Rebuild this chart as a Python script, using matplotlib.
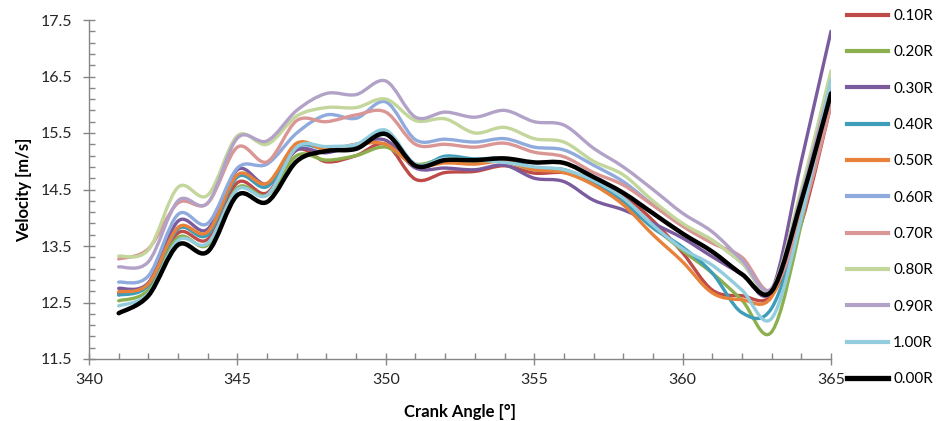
import numpy as np
import matplotlib.pyplot as plt
from matplotlib.path import Path
from matplotlib.patches import PathPatch
from matplotlib.lines import Line2D

plt.rcParams['font.family'] = ['Lato', 'DejaVu Sans']

# crank angle [deg]
angle = list(range(341, 366))

# velocity [m/s] at each radial position
v_010 = [12.66, 12.82, 13.73, 13.62, 14.62, 14.44, 15.20, 14.99, 15.10, 15.30,
         14.68, 14.80, 14.82, 14.92, 14.79, 14.80, 14.68, 14.40, 13.95, 13.38,
         12.72, 12.62, 12.63, 13.90, 16.00]
v_020 = [12.53, 12.72, 13.65, 13.52, 14.53, 14.40, 15.10, 15.02, 15.10, 15.25,
         14.95, 15.05, 15.00, 15.00, 14.85, 14.85, 14.62, 14.30, 13.85, 13.42,
         13.02, 12.54, 11.98, 13.90, 16.55]
v_030 = [12.75, 12.85, 13.94, 13.80, 14.85, 14.60, 15.20, 15.15, 15.30, 15.37,
         14.88, 14.88, 14.85, 14.93, 14.70, 14.64, 14.31, 14.14, 13.90, 13.64,
         13.31, 13.00, 12.72, 15.00, 17.30]
v_040 = [12.63, 12.80, 13.80, 13.70, 14.72, 14.55, 15.25, 15.22, 15.28, 15.50,
         14.92, 15.09, 15.04, 15.05, 14.88, 14.85, 14.62, 14.28, 13.82, 13.48,
         13.02, 12.32, 12.40, 14.00, 16.30]
v_050 = [12.69, 12.83, 13.83, 13.75, 14.76, 14.61, 15.32, 15.20, 15.30, 15.30,
         14.92, 14.97, 14.95, 15.00, 14.85, 14.80, 14.58, 14.23, 13.70, 13.22,
         12.67, 12.55, 12.60, 14.10, 16.10]
v_060 = [12.86, 12.97, 14.06, 13.90, 14.88, 14.95, 15.50, 15.82, 15.76, 16.05,
         15.38, 15.39, 15.34, 15.40, 15.25, 15.20, 14.93, 14.64, 14.23, 13.88,
         13.60, 13.20, 12.72, 14.30, 16.40]
v_070 = [13.27, 13.45, 14.26, 14.26, 15.25, 14.99, 15.72, 15.70, 15.82, 15.87,
         15.30, 15.30, 15.25, 15.32, 15.16, 15.08, 14.80, 14.58, 14.22, 13.85,
         13.55, 13.30, 12.72, 14.00, 16.00]
v_080 = [13.32, 13.43, 14.54, 14.40, 15.45, 15.30, 15.80, 15.95, 15.95, 16.10,
         15.72, 15.75, 15.50, 15.60, 15.40, 15.34, 15.00, 14.76, 14.30, 13.90,
         13.60, 13.20, 12.75, 14.50, 16.60]
v_090 = [13.13, 13.22, 14.30, 14.26, 15.41, 15.36, 15.90, 16.20, 16.18, 16.42,
         15.78, 15.87, 15.78, 15.90, 15.70, 15.64, 15.23, 14.90, 14.50, 14.08,
         13.75, 13.25, 12.75, 14.40, 16.40]
v_100 = [12.44, 12.66, 13.60, 13.55, 14.50, 14.40, 15.25, 15.26, 15.30, 15.55,
         14.95, 15.05, 15.02, 14.98, 14.90, 14.85, 14.66, 14.35, 13.87, 13.45,
         13.16, 12.72, 12.22, 14.00, 16.45]
v_000 = [12.31, 12.62, 13.52, 13.40, 14.40, 14.28, 15.00, 15.18, 15.22, 15.48,
         14.92, 15.02, 15.02, 15.05, 14.98, 14.97, 14.72, 14.44, 14.08, 13.72,
         13.40, 13.00, 12.70, 14.30, 16.20]

labels = ['0.10R', '0.20R', '0.30R', '0.40R', '0.50R', '0.60R',
          '0.70R', '0.80R', '0.90R', '1.00R', '0.00R']
series = [v_010, v_020, v_030, v_040, v_050, v_060,
          v_070, v_080, v_090, v_100, v_000]
colors = ['#BE4B48', '#8CB050', '#7A5C9E', '#3E9DB8', '#E8823A', '#8FAADC',
          '#D99694', '#C3D69B', '#B3A2C7', '#93CDDD', '#000000']
widths = [2.4] * 10 + [3.2]


def smooth_path(x, y):
    '''Excel style smoothed line: cubic bezier segments through the points'''
    x = np.asarray(x, float)
    y = np.asarray(y, float)
    n = len(x)
    verts = [(x[0], y[0])]
    codes = [Path.MOVETO]
    for i in range(n - 1):
        p0 = max(i - 1, 0)
        p3 = min(i + 2, n - 1)
        c1 = (x[i] + (x[i + 1] - x[p0]) / 6, y[i] + (y[i + 1] - y[p0]) / 6)
        c2 = (x[i + 1] - (x[p3] - x[i]) / 6, y[i + 1] - (y[p3] - y[i]) / 6)
        verts += [c1, c2, (x[i + 1], y[i + 1])]
        codes += [Path.CURVE4] * 3
    return Path(verts, codes)


fig = plt.figure(figsize=(9.41, 4.21), dpi=100)
ax = fig.add_axes([89 / 941, 62 / 421, 742 / 941, 339 / 421])

handles = []
for vals, lab, col, lw in zip(series, labels, colors, widths):
    ax.add_patch(PathPatch(smooth_path(angle, vals), fill=False,
                           edgecolor=col, linewidth=lw,
                           capstyle='round', joinstyle='round'))
    handles.append(Line2D([], [], color=col, linewidth=lw + 0.6, label=lab))

ax.set_xlim(340, 365)
ax.set_ylim(11.5, 17.5)
ax.set_xticks(np.arange(340, 366, 5))
ax.set_xticks(np.arange(340, 366, 1), minor=True)
ax.set_yticks(np.arange(11.5, 17.6, 1.0))
ax.set_yticks(np.arange(11.5, 17.6, 0.2), minor=True)
ax.set_yticklabels(['%.1f' % v for v in np.arange(11.5, 17.6, 1.0)])

for side in ['top', 'right']:
    ax.spines[side].set_visible(False)
for side in ['left', 'bottom']:
    ax.spines[side].set_color('#868686')
    ax.spines[side].set_linewidth(1.0)

ax.tick_params(which='major', direction='inout', length=8, width=1,
               color='#868686', labelsize=11.5, labelcolor='#262626')
ax.tick_params(which='minor', direction='in', length=4, width=1,
               color='#868686')
ax.tick_params(axis='x', which='major', pad=6)
ax.tick_params(axis='y', which='major', pad=8)

ax.set_xlabel('Crank Angle [°]', fontsize=12, fontweight='bold', labelpad=12)
ax.set_ylabel('Velocity [m/s]', fontsize=12, fontweight='bold', labelpad=6)

fig.legend(handles=handles, loc='upper left', bbox_to_anchor=(838 / 941, 1.0),
           frameon=False, fontsize=11, handlelength=2.7, handletextpad=0.3,
           labelspacing=1.46, borderaxespad=0.2)

fig.savefig('out.png', dpi=100)
